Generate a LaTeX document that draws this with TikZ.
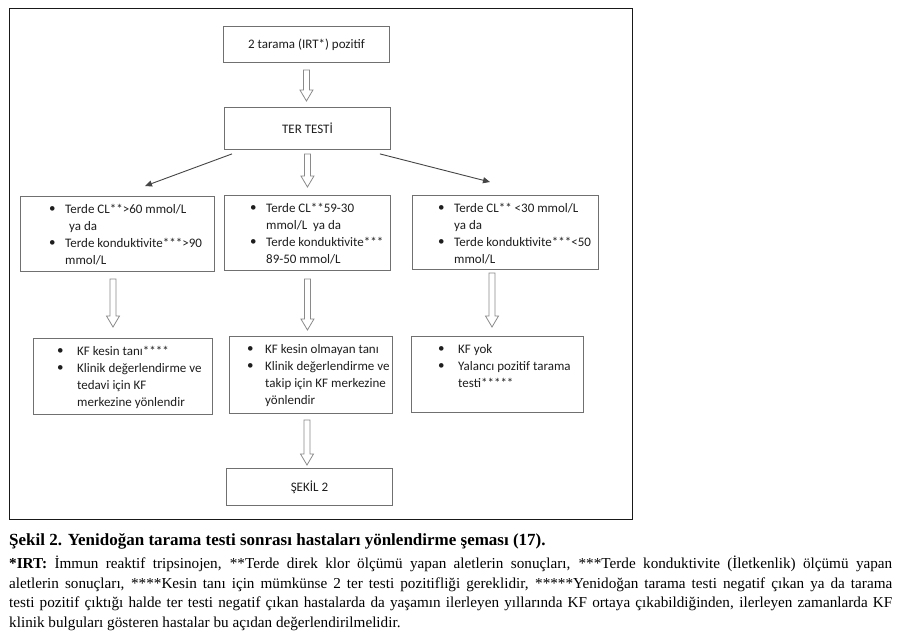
\documentclass[tikz,border=0pt]{standalone}
\usepackage{fontspec}
\setmainfont{Liberation Serif}
\newfontfamily\boxfont{Carlito}
\usetikzlibrary{calc,arrows.meta}
\definecolor{boxgray}{HTML}{707070}
\definecolor{textgray}{HTML}{1E1E1E}
\definecolor{arrowgray}{HTML}{8A8A8A}
\definecolor{diaggray}{HTML}{454545}
\newcommand{\bul}{\makebox[16pt][l]{\raisebox{0.5pt}{\textbullet}}}
\newcommand{\bulw}{\makebox[20pt][l]{\raisebox{0.5pt}{\textbullet}}}
\newcommand{\bulm}{\makebox[18pt][l]{\raisebox{0.5pt}{\textbullet}}}
\newcommand{\hollowarrow}[2]{%
  \path[hollow] let \p1=(#1), \p2=(#2) in
    (\x1-3pt,\y1) -- (\x1+3pt,\y1) -- (\x1+3pt,\y2+11pt) -- (\x1+6.5pt,\y2+11pt)
    -- (\x1,\y2) -- (\x1-6.5pt,\y2+11pt) -- (\x1-3pt,\y2+11pt) -- cycle;}
\tikzset{
  box/.style={draw=boxgray, line width=0.9pt, anchor=north west, inner sep=0pt},
  centertext/.style={font=\boxfont\fontsize{13}{17}\selectfont, text=textgray},
  boxtext/.style={anchor=north west, inner sep=0pt, align=left,
    font=\boxfont\fontsize{13}{17}\selectfont, text=textgray},
  hollow/.style={draw=arrowgray, line width=0.8pt, fill=white},
  diag/.style={draw=diaggray, line width=0.9pt, -{Triangle[length=7pt,width=6pt]}},
  frame/.style={draw=black!90, line width=1.3pt},
}
\begin{document}
\begin{tikzpicture}[x=1pt,y=-1pt]
\useasboundingbox (0,0) rectangle (911,635);
\fill[white] (0,0) rectangle (911,635);
\node[frame, anchor=north west, inner sep=0pt, minimum width=623, minimum height=511] (frame) at (9,8) {};

% top boxes
\node[box, minimum width=166, minimum height=36] (b1) at (223,26) {};
\node[centertext] (b1t) at (b1.center) {2 tarama (IRT*) pozitif};
\node[box, minimum width=166, minimum height=42] (b2) at (224,107) {};
\node[centertext] (b2t) at (b2.center) {TER TEST\.{I}};

% row 2
\node[box, minimum width=194, minimum height=75] (r2l) at (20,196) {};
\node[box, minimum width=166, minimum height=75] (r2m) at (224,195) {};
\node[box, minimum width=186, minimum height=74] (r2r) at (412,195) {};

\node[boxtext] (r2lt) at (49,203) {\rule{0pt}{10pt}\bul Terde CL**>60 mmol/L\\
  \hspace*{20pt}ya da\\
  \bul Terde konduktivite***>90\\
  \hspace*{16pt}mmol/L};
\node[boxtext] (r2mt) at (250,202) {\rule{0pt}{10pt}\bul Terde CL**59-30\\
  \hspace*{16pt}mmol/L\ \ ya da\\
  \bul Terde konduktivite***\\
  \hspace*{16pt}89-50 mmol/L};
\node[boxtext] (r2rt) at (438,202) {\rule{0pt}{10pt}\bul Terde CL** <30 mmol/L\\
  \hspace*{16pt}ya da\\
  \bul Terde konduktivite***<50\\
  \hspace*{16pt}mmol/L};

% row 3
\node[box, minimum width=179, minimum height=76] (r3l) at (33,338) {};
\node[box, minimum width=163, minimum height=77] (r3m) at (229,336) {};
\node[box, minimum width=172, minimum height=76] (r3r) at (411,336) {};

\node[boxtext] (r3lt) at (57,345) {\rule{0pt}{10pt}\bulw KF kesin tan\i****\\
  \bulw Klinik de\u{g}erlendirme ve\\
  \hspace*{20pt}tedavi i\c{c}in KF\\
  \hspace*{20pt}merkezine y\"onlendir};
\node[boxtext] (r3mt) at (247,343) {\rule{0pt}{10pt}\bulm KF kesin olmayan tan\i\\
  \bulm Klinik de\u{g}erlendirme ve\\
  \hspace*{18pt}takip i\c{c}in KF merkezine\\
  \hspace*{18pt}y\"onlendir};
\node[boxtext] (r3rt) at (438,343) {\rule{0pt}{10pt}\bulw KF yok\\
  \bulw Yalanc\i\ pozitif tarama\\
  \hspace*{20pt}testi*****};

% bottom box
\node[box, minimum width=166, minimum height=37] (b4) at (226,468) {};
\node[centertext] (b4t) at (b4.center) {\c{S}EK\.{I}L 2};

% hollow arrows
\hollowarrow{$(b1.south)+(0,7)$}{$(b2.north)+(0,-6)$}
\hollowarrow{$(b2.south)+(0,4)$}{$(r2m.north)+(0,-8)$}
\hollowarrow{$(r2l.south west)+(93,7)$}{$(r3l.north west)+(80,-11)$}
\hollowarrow{$(r2m.south)+(0,8)$}{$(r3m.north west)+(78,-6)$}
\hollowarrow{$(r2r.south west)+(80,3)$}{$(r3r.north west)+(81,-9)$}
\hollowarrow{$(r3m.south west)+(78,6)$}{$(b4.north west)+(81,-3)$}

% diagonal arrows
\draw[diag] ($(b2.south west)+(8,4)$) -- ($(r2l.north west)+(125,-10)$);
\draw[diag] ($(b2.south east)+(-11,4)$) -- ($(r2r.north west)+(78,-13)$);

% caption
\node[anchor=base west, inner sep=0pt, font=\bfseries\fontsize{17}{20}\selectfont] (cap) at (9,545)
  {\c{S}ekil 2. Yenido\u{g}an tarama testi sonras\i\ hastalar\i\ y\"onlendirme \c{s}emas\i\ (17).};
\node[anchor=north west, inner sep=0pt, text width=883pt, align=justify,
  font=\fontsize{15.2}{19.6}\selectfont] (foot) at (9,556)
  {\textbf{*IRT:} \.{I}mmun reaktif tripsinojen, **Terde direk klor \"ol\c{c}\"um\"u yapan aletlerin sonu\c{c}lar\i, ***Terde konduktivite (\.{I}letkenlik) \"ol\c{c}\"um\"u yapan\linebreak
  aletlerin sonu\c{c}lar\i, ****Kesin tan\i\ i\c{c}in m\"umk\"unse 2 ter testi pozitifli\u{g}i gereklidir, *****Yenido\u{g}an tarama testi negatif \c{c}\i kan ya da tarama\linebreak
  testi pozitif \c{c}\i kt\i\u{g}\i\ halde ter testi negatif \c{c}\i kan hastalarda da ya\c{s}am\i n ilerleyen y\i llar\i nda KF ortaya \c{c}\i kabildi\u{g}inden, ilerleyen zamanlarda KF\linebreak
  klinik bulgular\i\ g\"osteren hastalar bu a\c{c}\i dan de\u{g}erlendirilmelidir.};
\end{tikzpicture}
\end{document}
